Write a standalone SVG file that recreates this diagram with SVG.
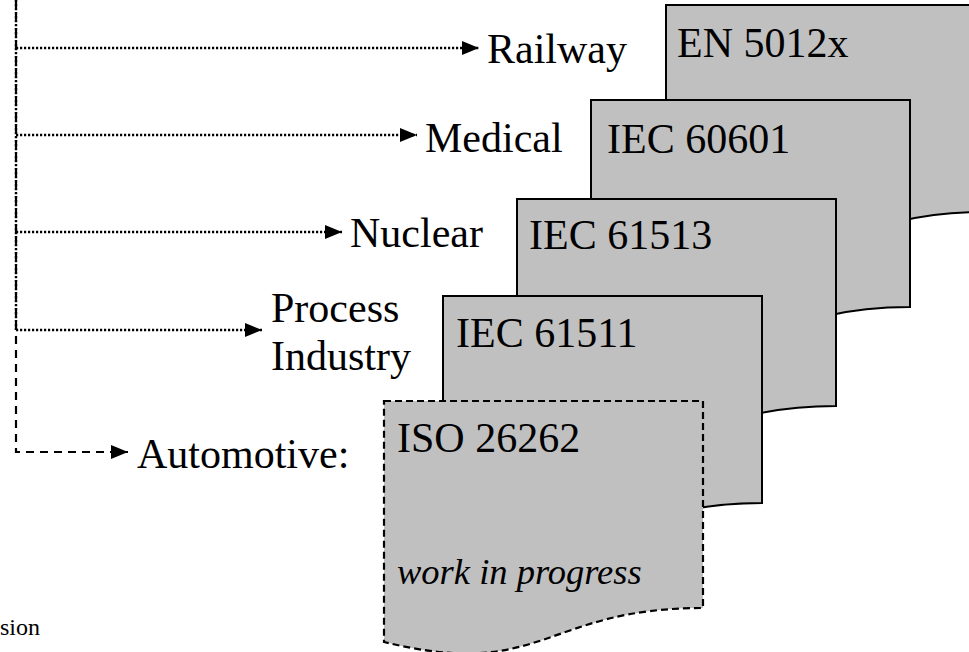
<svg xmlns="http://www.w3.org/2000/svg" width="969" height="652" viewBox="0 0 969 652">
<style>
  .doc { fill: #c0c0c0; stroke: #000; stroke-width: 2; stroke-linejoin: miter; }
  .doc.wip { stroke-dasharray: 7 4; stroke-width: 2.2; }
  text { font-family: 'Liberation Serif', 'Times New Roman', serif; font-size: 42px; fill: #000; }
  .it { font-style: italic; font-size: 36.5px; }
  .small { font-size: 24px; }
  .dot { fill: none; stroke: #000; stroke-width: 2.4; stroke-dasharray: 2.2 1.8; }
  .dash { fill: none; stroke: #000; stroke-width: 2.2; stroke-dasharray: 8 6; }
</style>
<defs>
  <marker id="ah" markerUnits="userSpaceOnUse" markerWidth="17" markerHeight="14" refX="17" refY="7" orient="auto">
    <path d="M0,0 L17,7 L0,14 Z" fill="#000"/>
  </marker>
</defs>
<rect width="969" height="652" fill="#fff"/>

<g id="doc-en5012x">
  <path class="doc" d="M666,5 H985 V212 C825.5,212 825.5,291 666,246 Z"/>
  <text x="677" y="57">EN 5012x</text>
</g>
<g id="doc-iec60601">
  <path class="doc" d="M591,100 H910 V307 C750.5,307 750.5,386 591,341 Z"/>
  <text x="607" y="153">IEC 60601</text>
</g>
<g id="doc-iec61513">
  <path class="doc" d="M517,199 H836 V406 C676.5,406 676.5,485 517,440 Z"/>
  <text x="529" y="249">IEC 61513</text>
</g>
<g id="doc-iec61511">
  <path class="doc" d="M443,296 H762 V503 C602.5,503 602.5,582 443,537 Z"/>
  <text x="456" y="347">IEC 61511</text>
</g>
<g id="doc-iso26262">
  <path class="doc wip" d="M384,401 H703 V608 C543.5,608 543.5,681 384,642 Z"/>
  <text x="397" y="452">ISO 26262</text>
  <text class="it" x="397" y="584">work in progress</text>
</g>

<g id="label-railway"><text x="487" y="63">Railway</text></g>
<g id="label-medical"><text x="425" y="152">Medical</text></g>
<g id="label-nuclear"><text x="350" y="247">Nuclear</text></g>
<g id="label-process"><text x="271" y="322">Process</text><text x="271" y="370">Industry</text></g>
<g id="label-automotive"><text x="137" y="468">Automotive:</text></g>
<g id="footnote"><text class="small" x="0" y="635">sion</text></g>

<g id="connectors">
  <path class="dot" d="M16,0 V330"/>
  <path class="dot" d="M16,48 H479" marker-end="url(#ah)"/>
  <path class="dot" d="M16,135 H417" marker-end="url(#ah)"/>
  <path class="dot" d="M16,232 H342" marker-end="url(#ah)"/>
  <path class="dot" d="M16,330 H262" marker-end="url(#ah)"/>
  <path class="dash" d="M16,0 V452 H128" marker-end="url(#ah)"/>
</g>
</svg>
